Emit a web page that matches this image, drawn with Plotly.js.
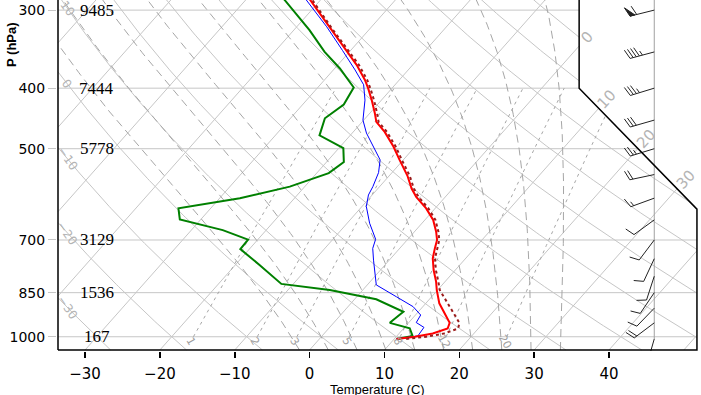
<!DOCTYPE html>
<html><head><meta charset="utf-8">
<script src="https://cdn.plot.ly/plotly-3.0.1.min.js"></script>
<style>html,body{margin:0;padding:0;background:#fff;} #chart{width:701px;height:395px;}</style>
</head><body><div id="chart"></div>
<script>
// ---------------- data ----------------
const TEMP_P = [1008,1000,988,970,950,884,842,816,782,749,722,700,679,650,623,597,579,552,521,496,470,453,439,418,400,388,367,348,321,289,250];
const TEMP_C = [10.3,12.5,14.5,15.9,15.5,11.8,9.9,8.8,7.1,5.6,4.7,4.0,2.9,1.1,-1.2,-3.9,-5.5,-7.6,-10.5,-12.9,-15.8,-18.1,-19.3,-21.3,-23.2,-24.6,-27.5,-30.6,-35.4,-41.4,-49.8];
const TV_C   = [11.6,14.0,16.0,17.3,16.8,12.9,10.3,9.1,7.4,5.9,5.0,4.3,3.2,1.4,-0.9,-3.6,-5.2,-7.3,-10.2,-12.6,-15.5,-17.8,-19.0,-21.0,-22.9,-24.3,-27.2,-30.3,-35.1,-41.1,-49.5];
const DEW_P  = [1008,997,969,950,912,871,842,823,768,724,699,675,649,623,600,575,547,525,499,476,447,425,399,372,350,323,289,250];
const DEW_C  = [10.3,12.1,10.8,7.5,8.0,2.9,-4.4,-11.6,-16.7,-21.2,-21.3,-25.8,-32.8,-34.3,-27.3,-22.0,-18.4,-17.7,-19.4,-24.1,-25.4,-24.5,-25.2,-29.3,-33.3,-37.9,-44.8,-53.8];
const WET_P  = [1008,997,966,949,923,895,863,826,754,722,698,658,619,593,575,546,521,496,472,450,418,395,374,348,319,289,250];
const WET_C  = [10.3,12.8,12.6,11.0,10.7,8.7,5.3,1.2,-2.1,-3.6,-4.3,-7.0,-9.4,-10.5,-10.9,-11.8,-13.1,-15.6,-18.1,-20.1,-22.2,-24.2,-27.1,-31.1,-36.0,-41.9,-50.5];
const LEVEL_P = [300,400,500,700,850,1000];
const LEVEL_Z = ["9485","7444","5778","3129","1536","167"];
const WIND_P   = [300,350,400,450,500,550,600,650,700,750,800,850,900,950,1008];
const WIND_DIR = [256,255,253,254,253,258,250,234,217,205,198,214,224,233,196];
const WIND_KT  = [60,45,35,30,25,20,15,10,10,10,10,10,10,20,2];
const TEMP_TICKS = [-30,-20,-10,0,10,20,30,40];
const ISOTHERMS = [-100,-90,-80,-70,-60,-50,-40,-30,-20,-10,0,10,20,30,40,50];
const ISOTHERM_LABELS = [0,10,20,30];
const DRY_THETA = [-30,-20,-10,0,10,20,30,40,50,60,70,80,90,100,110,120,130,140,150];
const DRY_LABELS = [-30,-20,-10,0,10];
const MOIST_T = [-4,0,4,8,12,16,20,24,28,32];
const MIX_R = [1,2,3,5,8,12,20];

// ---------------- skew-T coordinates ----------------
function sy(p){ return 132.182 - 44.061*Math.log10(p); }
function sx(t,y){ return 0.54*t + 0.90692*y; }
const xmin=-19.072, xmax=27.32, ymin=-1.0051, ymax=23.751;
const PW=643, PH=351;
const pxX = PW/(xmax-xmin), pxY = PH/(ymax-ymin);
const YB = -0.9346217, YT = 44.061;
function xRight(y){ if(y<=9.0) return 27.1; if(y<=17.53) return 27.1-(y-9.0)*(8.5/8.53); return 18.6; }
function inside(x,y){ return y>=YB-1e-9 && y<=YT && x>=-19-1e-9 && x<=xRight(y)+1e-9; }

function clipCurve(f,a0,a1,n){
  const xs=[],ys=[]; let prevA=null,prevIn=null;
  for(let i=0;i<=n;i++){
    const a=a0+(a1-a0)*i/n; const [x,y]=f(a); const ins=inside(x,y);
    if(i>0 && ins!==prevIn){
      let lo=prevA,hi=a;
      for(let k=0;k<40;k++){ const m=(lo+hi)/2; const [mx,my]=f(m); if(inside(mx,my)===prevIn) lo=m; else hi=m; }
      const [bx,by]=f(prevIn?lo:hi);
      xs.push(bx); ys.push(by);
      if(prevIn){ xs.push(null); ys.push(null); }
    }
    if(ins){ xs.push(x); ys.push(y); }
    prevA=a; prevIn=ins;
  }
  xs.push(null); ys.push(null);
  return [xs,ys];
}
function merge(list){ const X=[],Y=[]; list.forEach(([a,b])=>{X.push(...a);Y.push(...b);}); return [X,Y]; }

// thermodynamics (NCAR skew-T routines)
function esat(t){ return Math.pow(10, 23.832241 - 5.02808*Math.log10(t) - 1.3816e-7*Math.pow(10,11.344-0.0303998*t) + 8.1328e-3*Math.pow(10,3.49149-1302.8844/t) - 2949.076/t); }
function wmr(t,p){ const e=esat(t); return 622*e/(p-e); }
function osFn(t,p){ return t*Math.pow(1000/p,0.286)/Math.exp(-2.6518986*wmr(t,p)/t); }
function tsa(os,p){ let tq=253.16,d=120; for(let i=0;i<24;i++){ d/=2; const x=os*Math.exp(-2.6518986*wmr(tq,p)/tq)-tq*Math.pow(1000/p,0.286); if(Math.abs(x)<0.0005) break; tq+= (x>=0?d:-d);} return tq; }
function tmr(w,p){ const x=Math.log10(w*p/(622+w)); return Math.pow(10,0.0498646455*x+2.4082965)-7.07475+38.9114*Math.pow(Math.pow(10,0.0915*x)-1.2035,2); }

const lp = a=>Math.pow(10,a);

// background lines
const isoT = merge(ISOTHERMS.map(T=>clipCurve(y=>[sx(T,y),y], -1.2, 45, 60)));
const dry = merge(DRY_THETA.map(th=>clipCurve(a=>{const p=lp(a); const t=(th+273.15)*Math.pow(p/1000,0.286)-273.15; const y=sy(p); return [sx(t,y),y];}, Math.log10(1100), 2, 300)));
const moist = merge(MOIST_T.map(t0=>{const os=osFn(t0+273.15,1000); return clipCurve(a=>{const p=lp(a); const t=tsa(os,p)-273.15; const y=sy(p); return [sx(t,y),y];}, Math.log10(1080), Math.log10(250), 160);}));
const mix = merge(MIX_R.map(w=>clipCurve(a=>{const p=lp(a); const t=tmr(w,p)-273.15; const y=sy(p); return [sx(t,y),y];}, 3, Math.log10(400), 60)));
const isobar = merge(LEVEL_P.map(p=>clipCurve(x=>[x,sy(p)], -19.5, 28, 200)));

function prof(P,T){ return {x:P.map((p,i)=>sx(T[i],sy(p))), y:P.map(p=>sy(p))}; }
const tempL = prof(TEMP_P,TEMP_C), tvL = prof(TEMP_P,TV_C), dewL = prof(DEW_P,DEW_C), wetL = prof(WET_P,WET_C);

// wind barbs
const BARB_X = 24.02;
const bx=[],by=[],fx=[],fy=[];
function toD(x0,y0,dxp,dyp){ return [x0+dxp/pxX, y0-dyp/pxY]; }
WIND_P.forEach((p,i)=>{
  const y0=sy(p), x0=BARB_X, r=WIND_DIR[i]*Math.PI/180;
  const ox=Math.sin(r), oy=-Math.cos(r); const qx=-oy, qy=ox;
  const L=25, F=10, SP=3.2, ang=70*Math.PI/180;
  const ux=Math.cos(ang)*ox+Math.sin(ang)*qx, uy=Math.cos(ang)*oy+Math.sin(ang)*qy;
  let e=toD(x0,y0,ox*L,oy*L); bx.push(x0,e[0],null); by.push(y0,e[1],null);
  let s=Math.round(WIND_KT[i]/5)*5; let pos=L;
  const pen=Math.floor(s/50); s-=pen*50; const full=Math.floor(s/10); s-=full*10; const half=s>=5;
  for(let k=0;k<pen;k++){
    const a=toD(x0,y0,ox*pos,oy*pos), b=toD(x0,y0,ox*pos+ux*F,oy*pos+uy*F), c=toD(x0,y0,ox*(pos-5),oy*(pos-5));
    fx.push(a[0],b[0],c[0],a[0],null); fy.push(a[1],b[1],c[1],a[1],null); pos-=5+SP*0.6;
  }
  for(let k=0;k<full;k++){
    const a=toD(x0,y0,ox*pos,oy*pos), b=toD(x0,y0,ox*pos+ux*F,oy*pos+uy*F);
    bx.push(a[0],b[0],null); by.push(a[1],b[1],null); pos-=SP;
  }
  if(half){ if(pen+full===0) pos-=SP; const a=toD(x0,y0,ox*pos,oy*pos), b=toD(x0,y0,ox*pos+ux*F/2,oy*pos+uy*F/2); bx.push(a[0],b[0],null); by.push(a[1],b[1],null); }
});

const GRID='#c6c6c6';
const traces=[
  {x:isobar[0],y:isobar[1],mode:'lines',line:{color:GRID,width:1},hoverinfo:'skip'},
  {x:isoT[0],y:isoT[1],mode:'lines',line:{color:GRID,width:1},hoverinfo:'skip'},
  {x:dry[0],y:dry[1],mode:'lines',line:{color:GRID,width:1},hoverinfo:'skip'},
  {x:moist[0],y:moist[1],mode:'lines',line:{color:'#a6a6a6',width:1,dash:'8px,5px'},hoverinfo:'skip'},
  {x:mix[0],y:mix[1],mode:'lines',line:{color:'#a6a6a6',width:1,dash:'3px,4px'},hoverinfo:'skip'},
  {x:[BARB_X,BARB_X],y:[sy(WIND_P[WIND_P.length-1]),YT],mode:'lines',line:{color:'#a0a0a0',width:1},hoverinfo:'skip'},
  {x:dewL.x,y:dewL.y,mode:'lines',line:{color:'#008000',width:2}},
  {x:wetL.x,y:wetL.y,mode:'lines',line:{color:'#0000ff',width:1}},
  {x:tempL.x,y:tempL.y,mode:'lines',line:{color:'#ff0000',width:2}},
  {x:tvL.x,y:tvL.y,mode:'lines',line:{color:'#9b1b1b',width:2,dash:'dot'}},
  {x:bx,y:by,mode:'lines',line:{color:'#222',width:1},hoverinfo:'skip'},
  {x:fx,y:fy,mode:'lines',fill:'toself',fillcolor:'#222',line:{color:'#222',width:1},hoverinfo:'skip'},
  {x:[-19,27.1,27.1,18.6,18.6,-19,-19],y:[YB,YB,9.0,17.53,YT,YT,YB],mode:'lines',line:{color:'#000',width:1.5},hoverinfo:'skip'}
];

const ann=[];
LEVEL_P.forEach((p,i)=>ann.push({x:-16.22,y:sy(p),xref:'x',yref:'y',text:LEVEL_Z[i],showarrow:false,font:{family:'Liberation Serif',size:17,color:'#000'},xanchor:'center',yanchor:'middle'}));
DRY_LABELS.forEach(th=>{
  const f=a=>{const p=lp(a); const t=(th+273.15)*Math.pow(p/1000,0.286)-273.15; return sx(t,sy(p));};
  let lo=2,hi=3.05;
  for(let k=0;k<50;k++){const m=(lo+hi)/2; if(f(m)>-18.35) hi=m; else lo=m;}
  const y=sy(lp((lo+hi)/2)); if(y<ymax-0.2) ann.push({x:-18.35,y:y,xref:'x',yref:'y',text:(th<0?'−':'')+Math.abs(th),showarrow:false,textangle:55,font:{family:'DejaVu Sans',size:12,color:'#b4b4b4'}});
});
ISOTHERM_LABELS.forEach(T=>{
  let lo=-1,hi=44; for(let k=0;k<60;k++){const m=(lo+hi)/2; if(sx(T,m)<xRight(m)) lo=m; else hi=m;}
  const y=(lo+hi)/2+0.65; ann.push({x:sx(T,y),y:y,xref:'x',yref:'y',text:String(T),showarrow:false,textangle:-47,font:{family:'DejaVu Sans',size:15,color:'#b4b4b4'}});
});
MIX_R.forEach(w=>{ const p=1018; const y=sy(p); ann.push({x:sx(tmr(w,p)-273.15,y),y:y,xref:'x',yref:'y',text:String(w),showarrow:false,textangle:60,font:{family:'DejaVu Sans',size:11,color:'#a0a0a0'}}); });
ann.push({x:4.05,y:0,xref:'x',yref:'paper',xanchor:'center',yanchor:'middle',yshift:-38,text:'Temperature (C)',showarrow:false,font:{family:'Liberation Sans',size:13,color:'#000'}});
ann.push({x:0,y:1,xref:'paper',yref:'paper',xanchor:'center',yanchor:'middle',xshift:-46,yshift:-45,text:'<b>P (hPa)</b>',textangle:-90,showarrow:false,font:{family:'Liberation Sans',size:13,color:'#000'}});

const layout={
  width:701,height:395,margin:{l:57,r:1,t:0,b:44,pad:0},
  paper_bgcolor:'#fff',plot_bgcolor:'#fff',showlegend:false,
  xaxis:{range:[xmin,xmax],showgrid:false,zeroline:false,showline:false,
    tickmode:'array',tickvals:TEMP_TICKS.map(t=>sx(t,YB)),ticktext:TEMP_TICKS.map(t=>(t<0?'−':'')+Math.abs(t)),
    ticks:'outside',ticklen:6,tickwidth:1.5,tickcolor:'#000',ticklabelstandoff:3,tickfont:{family:'DejaVu Sans',size:15,color:'#000'}},
  yaxis:{range:[ymin,ymax],showgrid:false,zeroline:false,showline:false,
    tickmode:'array',tickvals:LEVEL_P.map(sy),ticktext:LEVEL_P.map(String),
    ticks:'outside',ticklen:8,tickwidth:1,tickcolor:GRID,tickfont:{family:'DejaVu Sans',size:14,color:'#000'}},
  annotations:ann
};
Plotly.newPlot('chart',traces,layout,{displayModeBar:false,staticPlot:true});
</script></body></html>
